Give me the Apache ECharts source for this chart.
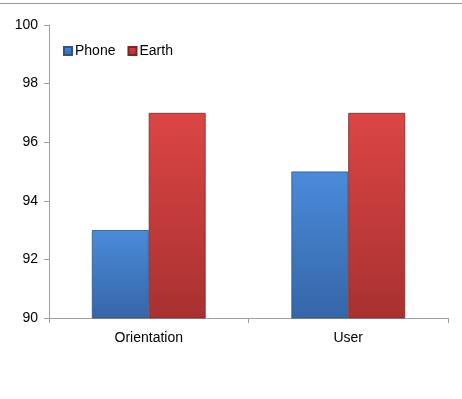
<!DOCTYPE html>
<html>
<head>
<meta charset="utf-8">
<script src="https://cdn.jsdelivr.net/npm/echarts@6/dist/echarts.min.js"></script>
<style>
  html, body { margin: 0; padding: 0; background: #fff; }
  #chart { width: 462px; height: 399px; }
</style>
</head>
<body>
<div id="chart"></div>
<script>
  var categories = ['Orientation', 'User']
  var phone = [93, 95]
  var earth = [97, 97]

  function grad(top, bottom) {
    return new echarts.graphic.LinearGradient(0, 0, 0, 1, [
      { offset: 0, color: top },
      { offset: 1, color: bottom }
    ])
  }

  var chart = echarts.init(document.getElementById('chart'))
  chart.setOption({
    animation: false,
    textStyle: { fontFamily: 'Liberation Sans, Arial, sans-serif' },
    graphic: [
      { type: 'rect', left: 0, top: 3, shape: { width: 462, height: 1 }, style: { fill: '#9a9a9a' } }
    ],
    legend: {
      left: 58,
      top: 39,
      itemWidth: 8,
      itemHeight: 8,
      itemGap: 12,
      icon: 'rect',
      textStyle: { fontSize: 14, color: '#000', padding: [0, 0, 0, -2] },
      data: ['Phone', 'Earth']
    },
    grid: { left: 49, right: 14, top: 25, bottom: 81 },
    xAxis: {
      type: 'category',
      data: categories,
      axisLine: { lineStyle: { color: '#a0a0a0' } },
      axisTick: { show: true, length: 5, lineStyle: { color: '#a0a0a0' } },
      axisLabel: { fontSize: 14, color: '#000', margin: 13 }
    },
    yAxis: {
      type: 'value',
      min: 90,
      max: 100,
      interval: 2,
      axisLine: { show: true, lineStyle: { color: '#a0a0a0' } },
      axisTick: { show: true, length: 5, lineStyle: { color: '#a0a0a0' } },
      axisLabel: { fontSize: 14, color: '#000', margin: 11 },
      splitLine: { show: false }
    },
    series: [
      {
        name: 'Phone',
        type: 'bar',
        data: phone,
        barGap: '0%',
        barCategoryGap: '43%',
        color: '#3b77c4',
        itemStyle: { color: grad('#4a8bd9', '#3566a8'), borderColor: '#2c548a', borderWidth: 0.8 }
      },
      {
        name: 'Earth',
        type: 'bar',
        data: earth,
        barGap: '0%',
        barCategoryGap: '43%',
        color: '#c93a3a',
        itemStyle: { color: grad('#db4645', '#a83130'), borderColor: '#7e2424', borderWidth: 0.8 }
      }
    ]
  })
</script>
</body>
</html>
